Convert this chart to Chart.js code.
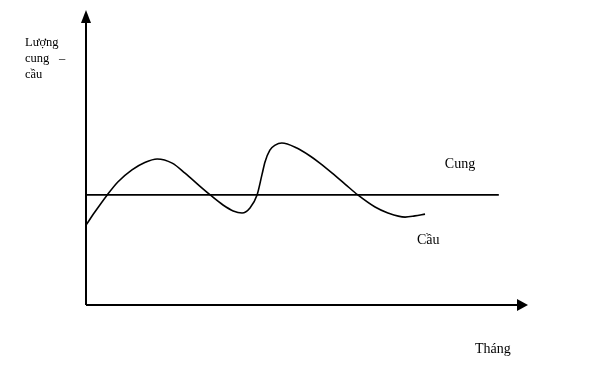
<!DOCTYPE html>
<html>
<head>
<meta charset="utf-8">
<script src="https://cdn.jsdelivr.net/npm/chart.js@4"></script>
<style>
  html, body { margin: 0; padding: 0; background: #fff; }
  #wrap { width: 605px; height: 382px; }
</style>
</head>
<body>
<div id="wrap"><canvas id="c" width="605" height="382"></canvas></div>
<script>
// Cầu (demand) curve (x: thời gian, y: lượng)
const cauX = [0, 2.0, 4.8, 7.2, 10.4, 13.3, 16.1, 19.5, 22.4, 26.2, 28.1, 31.0, 33.3, 35.3,
  37.1, 38.7, 39.8, 40.5, 41.6, 42.8, 44.3, 47.7, 50.7, 52.9, 55.7, 58.6, 61.5, 65.4, 68.3, 72.2, 74.4, 76.7];
const cauY = [27.1, 31.5, 37.3, 41.7, 45.8, 48.3, 49.5, 48.1, 44.7, 39.7, 37.3, 33.9, 31.9, 31.2,
  32.9, 37.3, 44.1, 48.5, 52.5, 54.2, 54.9, 53.2, 50.5, 48.1, 44.7, 41.0, 37.3, 33.2, 31.2, 29.8, 30.2, 30.8];

// Cung (supply) is flat
const cungX = [0, 93.4];
const cungY = [37.3, 37.3];

const axisLabelY = ['Lượng', 'cung', 'cầu'];
const axisLabelX = 'Tháng';
const seriesNames = ['Cầu', 'Cung'];

const SERIF = '"Liberation Serif", "DejaVu Serif", serif';

const toPoints = (xs, ys) => xs.map((x, i) => ({ x, y: ys[i] }));

// draws the two arrowed axes and the free text labels
const sketchAxes = {
  id: 'sketchAxes',
  afterDatasetsDraw(chart) {
    const { ctx, chartArea: area, scales } = chart;
    const x0 = scales.x.getPixelForValue(0);
    const y0 = scales.y.getPixelForValue(0);
    ctx.save();
    ctx.strokeStyle = '#000';
    ctx.fillStyle = '#000';
    ctx.lineWidth = 2;

    // y axis
    ctx.beginPath();
    ctx.moveTo(x0, y0);
    ctx.lineTo(x0, area.top + 10);
    ctx.stroke();
    ctx.beginPath();
    ctx.moveTo(x0, area.top);
    ctx.lineTo(x0 - 5, area.top + 13);
    ctx.lineTo(x0 + 5, area.top + 13);
    ctx.closePath();
    ctx.fill();

    // x axis
    ctx.beginPath();
    ctx.moveTo(x0, y0);
    ctx.lineTo(area.right - 8, y0);
    ctx.stroke();
    ctx.beginPath();
    ctx.moveTo(area.right, y0);
    ctx.lineTo(area.right - 11, y0 - 6);
    ctx.lineTo(area.right - 11, y0 + 6);
    ctx.closePath();
    ctx.fill();

    // y axis title, three lines at the top left
    ctx.font = '12.5px ' + SERIF;
    ctx.textBaseline = 'alphabetic';
    ctx.textAlign = 'left';
    axisLabelY.forEach((t, i) => ctx.fillText(t, 25, 46 + i * 16));
    ctx.fillText('–', 59, 62);

    // x axis title
    ctx.font = '14px ' + SERIF;
    ctx.fillText(axisLabelX, 475, 353);

    // series labels
    const cungEnd = cungX[cungX.length - 1];
    ctx.fillText(seriesNames[1], scales.x.getPixelForValue(cungEnd) - 54, scales.y.getPixelForValue(cungY[0]) - 27);
    const cauEnd = cauX[cauX.length - 1];
    ctx.fillText(seriesNames[0], scales.x.getPixelForValue(cauEnd) - 8, scales.y.getPixelForValue(cauY[cauY.length - 1]) + 30);
    ctx.restore();
  },
};

new Chart(document.getElementById('c'), {
  type: 'line',
  data: {
    datasets: [
      {
        label: seriesNames[0],
        data: toPoints(cauX, cauY),
        borderColor: '#000',
        borderWidth: 1.6,
        pointRadius: 0,
        cubicInterpolationMode: 'monotone',
        fill: false,
        clip: false,
      },
      {
        label: seriesNames[1],
        data: toPoints(cungX, cungY),
        borderColor: '#000',
        borderWidth: 1.8,
        pointRadius: 0,
        tension: 0,
        fill: false,
        clip: false,
      },
    ],
  },
  options: {
    responsive: false,
    maintainAspectRatio: false,
    animation: false,
    layout: { padding: { left: 86, top: 10, right: 77, bottom: 77 } },
    scales: {
      x: { type: 'linear', min: 0, max: 100, display: false },
      y: { type: 'linear', min: 0, max: 100, display: false },
    },
    plugins: {
      legend: { display: false },
      tooltip: { enabled: false },
    },
  },
  plugins: [sketchAxes],
});
</script>
</body>
</html>
